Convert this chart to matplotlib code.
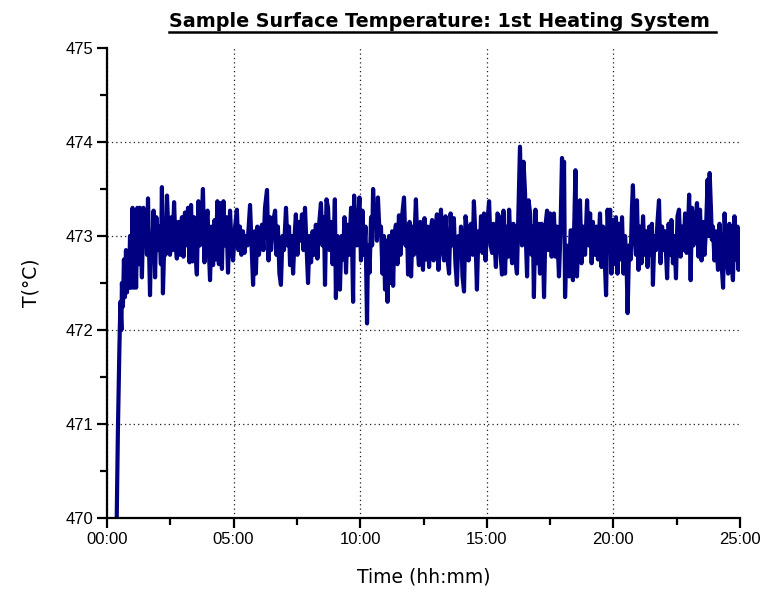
import matplotlib
matplotlib.use("Agg")
import matplotlib.pyplot as plt
from matplotlib.ticker import MultipleLocator, FuncFormatter
from matplotlib.lines import Line2D

# ------------------- DATA ------------------- #

hours = [
    0.38, 0.43, 0.49, 0.53, 0.57, 0.59, 0.63, 0.67, 0.71, 0.75,
    0.79, 0.83, 0.87, 0.91, 0.95, 1.01, 1.05, 1.11, 1.15, 1.20,
    1.26, 1.30, 1.38, 1.44, 1.50, 1.54, 1.58, 1.62, 1.70, 1.74,
    1.78, 1.84, 1.90, 1.95, 2.01, 2.07, 2.13, 2.17, 2.21, 2.27,
    2.31, 2.37, 2.43, 2.49, 2.55, 2.59, 2.65, 2.71, 2.76, 2.82,
    2.88, 2.96, 3.02, 3.08, 3.14, 3.20, 3.26, 3.32, 3.38, 3.44,
    3.50, 3.55, 3.61, 3.67, 3.73, 3.79, 3.85, 3.91, 3.97, 4.03,
    4.07, 4.13, 4.19, 4.25, 4.30, 4.36, 4.42, 4.48, 4.54, 4.60,
    4.66, 4.72, 4.78, 4.86, 4.92, 4.98, 5.06, 5.13, 5.19, 5.25,
    5.31, 5.37, 5.43, 5.49, 5.55, 5.65, 5.71, 5.77, 5.83, 5.88,
    5.94, 6.00, 6.08, 6.12, 6.18, 6.24, 6.32, 6.38, 6.44, 6.48,
    6.56, 6.64, 6.69, 6.75, 6.81, 6.87, 6.93, 6.99, 7.07, 7.13,
    7.19, 7.23, 7.29, 7.35, 7.41, 7.46, 7.52, 7.58, 7.64, 7.70,
    7.76, 7.82, 7.88, 7.94, 8.00, 8.06, 8.12, 8.18, 8.25, 8.31,
    8.37, 8.45, 8.51, 8.57, 8.61, 8.67, 8.73, 8.79, 8.85, 8.91,
    8.97, 9.00, 9.04, 9.10, 9.16, 9.20, 9.26, 9.32, 9.38, 9.44,
    9.50, 9.56, 9.64, 9.68, 9.72, 9.76, 9.81, 9.87, 9.93, 9.97,
    10.03, 10.09, 10.15, 10.21, 10.27, 10.31, 10.37, 10.43, 10.47, 10.51,
    10.56, 10.62, 10.66, 10.70, 10.76, 10.82, 10.88, 10.94, 10.98, 11.04,
    11.08, 11.14, 11.20, 11.26, 11.30, 11.35, 11.41, 11.47, 11.53, 11.59,
    11.65, 11.73, 11.79, 11.85, 11.89, 11.95, 12.01, 12.07, 12.12, 12.20,
    12.26, 12.32, 12.38, 12.44, 12.48, 12.54, 12.60, 12.66, 12.72, 12.78,
    12.84, 12.90, 12.95, 13.03, 13.09, 13.15, 13.19, 13.25, 13.31, 13.37,
    13.43, 13.51, 13.57, 13.63, 13.70, 13.76, 13.82, 13.88, 13.94, 13.98,
    14.04, 14.10, 14.16, 14.22, 14.28, 14.34, 14.38, 14.44, 14.49, 14.55,
    14.61, 14.67, 14.73, 14.77, 14.83, 14.89, 14.95, 15.01, 15.09, 15.15,
    15.21, 15.26, 15.32, 15.36, 15.42, 15.48, 15.54, 15.60, 15.66, 15.72,
    15.78, 15.84, 15.88, 15.94, 16.00, 16.05, 16.11, 16.19, 16.25, 16.31,
    16.35, 16.39, 16.45, 16.51, 16.55, 16.59, 16.65, 16.71, 16.77, 16.82,
    16.86, 16.92, 16.98, 17.04, 17.10, 17.16, 17.22, 17.26, 17.32, 17.38,
    17.44, 17.50, 17.56, 17.61, 17.65, 17.71, 17.77, 17.85, 17.91, 17.97,
    18.01, 18.05, 18.09, 18.15, 18.21, 18.25, 18.31, 18.36, 18.40, 18.46,
    18.50, 18.56, 18.62, 18.68, 18.74, 18.80, 18.88, 18.96, 19.02, 19.08,
    19.14, 19.19, 19.27, 19.33, 19.39, 19.47, 19.53, 19.59, 19.65, 19.71,
    19.77, 19.83, 19.87, 19.92, 19.98, 20.04, 20.10, 20.16, 20.22, 20.28,
    20.34, 20.40, 20.46, 20.52, 20.56, 20.62, 20.68, 20.73, 20.77, 20.83,
    20.89, 20.93, 20.99, 21.05, 21.11, 21.17, 21.23, 21.29, 21.35, 21.41,
    21.47, 21.52, 21.56, 21.62, 21.68, 21.74, 21.80, 21.86, 21.92, 21.98,
    22.04, 22.12, 22.18, 22.24, 22.29, 22.35, 22.41, 22.47, 22.53, 22.59,
    22.65, 22.71, 22.77, 22.83, 22.89, 22.95, 22.99, 23.05, 23.10, 23.16,
    23.22, 23.30, 23.36, 23.42, 23.48, 23.54, 23.60, 23.66, 23.72, 23.76,
    23.80, 23.85, 23.89, 23.93, 23.99, 24.05, 24.13, 24.19, 24.25, 24.33,
    24.39, 24.45, 24.53, 24.58, 24.64, 24.72, 24.78, 24.84, 24.90, 24.94,
    25.00,
]

temps = [
    469.9, 470.9, 471.8, 472.3, 472.0, 472.5, 472.25, 472.75, 472.35, 472.85,
    472.4, 472.8, 472.45, 473.0, 472.45, 473.3, 472.45, 473.1, 472.45, 473.3,
    472.7, 473.3, 472.56, 473.3, 472.9, 473.15, 472.8, 473.40, 472.37, 473.0,
    472.75, 473.27, 472.56, 473.2, 472.85, 473.1, 472.7, 473.52, 472.39, 473.0,
    472.8, 473.43, 473.0, 472.8, 473.2, 472.85, 473.36, 472.9, 472.76, 473.15,
    472.8, 473.2, 472.78, 473.25, 472.9, 473.3, 472.72, 473.33, 472.73, 473.2,
    472.8, 472.59, 473.37, 472.9, 473.1, 473.50, 472.72, 473.1, 473.27, 472.8,
    472.53, 473.1, 472.69, 473.17, 472.75, 473.37, 472.7, 473.35, 472.65, 473.37,
    472.9, 473.2, 472.61, 473.27, 472.9, 472.74, 473.1, 473.28, 472.85, 473.1,
    472.8, 473.05, 472.82, 473.0, 472.9, 473.33, 472.9, 472.48, 473.05, 472.6,
    473.1, 472.8, 473.0, 473.12, 472.85, 473.3, 473.49, 472.74, 473.2, 472.85,
    473.15, 473.27, 472.8, 473.1, 472.6, 472.48, 473.0, 472.85, 473.3, 472.9,
    473.1, 472.69, 473.0, 472.6, 473.0, 473.23, 472.8, 473.15, 472.95, 473.23,
    472.85, 473.3, 472.9, 472.5, 473.0, 472.72, 473.05, 472.8, 473.12, 472.76,
    473.1, 473.35, 472.9, 473.2, 472.48, 473.39, 473.3, 472.85, 473.15, 472.7,
    473.1, 473.39, 472.34, 473.0, 472.8, 472.43, 473.0, 472.75, 473.2, 472.61,
    473.12, 472.8, 473.3, 472.9, 472.30, 473.43, 473.0, 472.9, 473.2, 473.41,
    472.74, 473.27, 472.8, 473.1, 472.07, 472.9, 472.61, 473.2, 472.9, 473.50,
    473.1, 473.3, 472.95, 473.41, 473.05, 473.1, 472.6, 473.0, 472.43, 472.95,
    472.3, 473.0, 472.5, 473.05, 472.47, 473.0, 473.12, 472.7, 473.22, 472.8,
    473.2, 473.41, 472.9, 473.1, 472.59, 473.15, 472.57, 473.1, 472.8, 473.39,
    472.9, 472.69, 473.15, 472.8, 472.64, 473.19, 472.75, 473.1, 472.67, 473.05,
    473.17, 472.74, 473.0, 473.23, 472.64, 473.1, 473.28, 472.85, 472.74, 473.21,
    472.8, 472.6, 473.24, 472.9, 473.19, 472.71, 472.48, 473.0, 472.8, 473.1,
    472.57, 472.41, 473.21, 473.06, 472.74, 473.1, 473.13, 472.8, 473.37, 473.0,
    472.43, 473.05, 472.85, 473.21, 472.82, 473.24, 472.74, 473.1, 473.37, 472.9,
    472.82, 473.13, 472.85, 472.67, 473.24, 473.21, 472.82, 472.59, 473.27, 472.6,
    473.1, 472.78, 473.28, 472.9, 472.71, 473.13, 472.8, 472.6, 473.28, 473.95,
    473.4, 472.9, 473.79, 473.46, 472.9, 472.57, 473.38, 473.24, 472.8, 473.1,
    472.35, 473.28, 472.71, 473.13, 472.6, 473.13, 472.85, 472.35, 473.12, 473.27,
    472.85, 473.24, 472.78, 473.0, 473.24, 472.78, 473.1, 472.57, 473.06, 473.83,
    473.2, 473.79, 472.35, 472.9, 472.65, 472.57, 473.06, 473.06, 472.53, 473.2,
    473.70, 472.57, 473.0, 473.38, 472.71, 473.1, 472.8, 473.38, 472.9, 473.24,
    472.71, 473.15, 472.8, 473.1, 472.75, 473.24, 472.67, 473.1, 472.8, 472.37,
    473.28, 472.85, 473.28, 472.6, 473.17, 472.7, 473.2, 472.6, 473.13, 472.75,
    473.2, 472.6, 473.0, 472.7, 472.18, 472.9, 472.75, 473.28, 473.54, 473.0,
    472.8, 473.38, 472.64, 473.1, 472.71, 473.21, 472.8, 473.05, 472.67, 473.1,
    472.8, 473.13, 472.48, 473.0, 472.85, 473.15, 473.38, 472.71, 473.1, 472.85,
    473.05, 472.55, 473.13, 472.8, 473.17, 472.71, 473.0, 472.55, 473.21, 473.28,
    472.78, 473.1, 472.85, 473.24, 472.82, 473.1, 473.44, 472.53, 473.3, 472.9,
    473.1, 473.35, 472.78, 473.28, 472.74, 473.15, 472.8, 473.1, 473.6, 473.0,
    473.67, 473.3, 472.96, 473.10, 472.74, 473.05, 472.64, 473.13, 472.8, 472.45,
    473.24, 472.85, 472.60, 473.13, 472.8, 472.53, 473.21, 472.75, 473.1, 472.64,
    473.05,
]

assert len(hours) == len(temps), (len(hours), len(temps))

x_ticks = [0, 5, 10, 15, 20, 25]
y_ticks = [470, 471, 472, 473, 474, 475]

title = "Sample Surface Temperature: 1st Heating System "
x_label = "Time (hh:mm)"
y_label = "T(°C)"

# ------------------- PLOT ------------------- #

fig = plt.figure(figsize=(7.63, 5.94), dpi=100)
ax = fig.add_axes([0.1402, 0.1279, 0.8297, 0.7913])

ax.plot(hours, temps, color="#000080", lw=3.0)

ax.set_xlim(x_ticks[0], x_ticks[-1])
ax.set_ylim(y_ticks[0], y_ticks[-1])
ax.set_xticks(x_ticks)
ax.set_yticks(y_ticks)
ax.xaxis.set_minor_locator(MultipleLocator(2.5))
ax.yaxis.set_minor_locator(MultipleLocator(0.5))
ax.xaxis.set_major_formatter(FuncFormatter(lambda h, p: f"{int(h):02d}:{int(round((h % 1) * 60)):02d}"))

for s in ["top", "right"]:
    ax.spines[s].set_visible(False)
for s in ["left", "bottom"]:
    ax.spines[s].set_linewidth(1.6)

ax.tick_params(which="major", direction="out", length=7, width=1.6, labelsize=12, pad=3)
ax.tick_params(which="minor", direction="out", length=5, width=1.6)
for lab in ax.get_xticklabels() + ax.get_yticklabels():
    lab.set_family("Liberation Sans")

ax.grid(which="major", linestyle=(0, (1, 2.5)), color="#222222", lw=0.9)
ax.set_axisbelow(True)
# no dotted line along the top / right edge
ax.yaxis.get_gridlines()[-1].set_visible(False)
ax.xaxis.get_gridlines()[-1].set_visible(False)

ax.set_xlabel(x_label, fontsize=13.5, family="DejaVu Sans")
ax.set_ylabel(y_label, fontsize=13.5, family="DejaVu Sans")
ax.xaxis.label.set_va("center")
ax.yaxis.label.set_va("center")
ax.xaxis.set_label_coords(0.5, -0.125)
ax.yaxis.set_label_coords(-0.12, 0.5)

t = fig.text(0.580, 0.964, title, ha="center", va="center", fontsize=13.8, fontweight="bold",
             family="DejaVu Sans")

# underline the title
fig.canvas.draw()
bb = t.get_window_extent(fig.canvas.get_renderer())
W, H = fig.bbox.width, fig.bbox.height
uy = (bb.y0 - 1) / H
fig.add_artist(Line2D([bb.x0 / W, bb.x1 / W], [uy, uy], color="black", lw=1.8))

fig.savefig("out.png", dpi=100)
